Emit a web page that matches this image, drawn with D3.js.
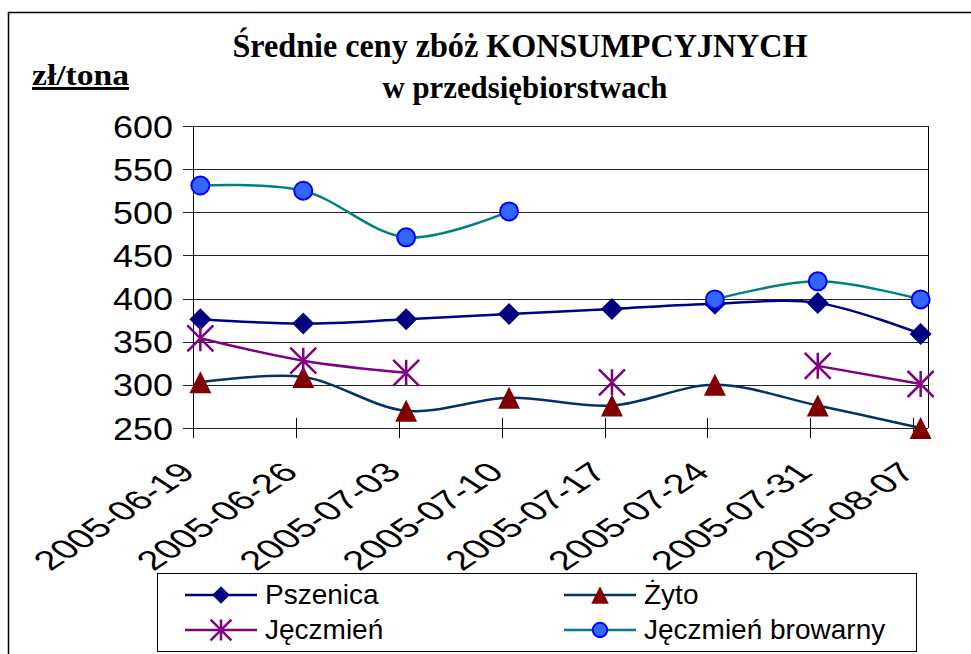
<!DOCTYPE html>
<html>
<head>
<meta charset="utf-8">
<script src="https://cdn.jsdelivr.net/npm/d3@7/dist/d3.min.js"></script>
<style>
  body { margin: 0; background: #fff; }
  svg { display: block; }
</style>
</head>
<body>
<svg id="Vis" width="971" height="654"></svg>
<script>
// dates of the weekly quotes and the prices (zł/tona)
var dates = ["2005-06-19","2005-06-26","2005-07-03","2005-07-10","2005-07-17","2005-07-24","2005-07-31","2005-08-07"];
var pszenica = [376, 371, 376, 382, 388, 394, 395, 359];
var zyto = [303, 309, 270, 285, 276, 300, 276, 250];
var jeczmien = [354, 328, 314, null, 303, null, 322, 301];
var browarny = [531, 525, 471, 501, null, 399, 420, 399];
var yTicks = [250, 300, 350, 400, 450, 500, 550, 600];
var seriesNames = ["Pszenica", "Żyto", "Jęczmień", "Jęczmień browarny"];

var parse = d3.timeParse("%Y-%m-%d");
var svg = d3.select("#Vis");

// outer frame
svg.append("rect").attr("x", 8.5).attr("y", 12.5).attr("width", 1000).attr("height", 700)
   .attr("fill", "none").attr("stroke", "#000").attr("stroke-width", 1.5);

var plotLeft = 193, plotRight = 928, plotTop = 126, plotBottom = 428;

var x = d3.scaleTime()
    .domain([parse("2005-06-19"), d3.timeDay.offset(parse("2005-08-07"), 1)])
    .range([plotLeft, plotRight]);
var y = d3.scaleLinear().domain([250, 600]).range([plotBottom, plotTop]);

// points sit in the middle of their day
function px(i){ return x(d3.timeHour.offset(parse(dates[i]), 12)); }

// gridlines
svg.append("g").selectAll("line").data(yTicks).enter().append("line")
   .attr("x1", plotLeft - 10).attr("x2", plotRight)
   .attr("y1", function(d){ return Math.round(y(d)) + 0.5; })
   .attr("y2", function(d){ return Math.round(y(d)) + 0.5; })
   .attr("stroke", "#222").attr("stroke-width", 1);

// plot borders
svg.append("line").attr("x1", plotLeft + 0.5).attr("x2", plotLeft + 0.5).attr("y1", plotTop).attr("y2", plotBottom + 10)
   .attr("stroke", "#000");
svg.append("line").attr("x1", plotRight + 0.5).attr("x2", plotRight + 0.5).attr("y1", plotTop).attr("y2", plotBottom)
   .attr("stroke", "#000");

// y tick labels
svg.append("g").selectAll("text").data(yTicks).enter().append("text")
   .attr("x", 173).attr("y", function(d){ return y(d); })
   .attr("dy", "0.36em").attr("text-anchor", "end")
   .attr("textLength", 60).attr("lengthAdjust", "spacingAndGlyphs")
   .style("font-family", "'Liberation Sans', Arial, sans-serif").style("font-size", "32px")
   .text(function(d){ return d; });

// x ticks crossing the axis
svg.append("g").selectAll("line").data(dates).enter().append("line")
   .attr("x1", function(d){ return Math.round(x(parse(d))) + 0.5; })
   .attr("x2", function(d){ return Math.round(x(parse(d))) + 0.5; })
   .attr("y1", plotBottom - 10).attr("y2", plotBottom + 10)
   .attr("stroke", "#000");

// x labels: rotated 45 and stretched like the original picture
svg.append("g").selectAll("text").data(dates).enter().append("text")
   .attr("transform", function(d){ return "translate(" + (x(parse(d)) + 4) + ",474) scale(1.5,1) rotate(-45)"; })
   .attr("text-anchor", "end")
   .style("font-family", "'Liberation Sans', Arial, sans-serif").style("font-size", "27px")
   .text(function(d){ return d; });

// lines
var lineColors = ["#000080", "#003366", "#800080", "#008080"];
var allSeries = [pszenica, zyto, jeczmien, browarny];

var line = d3.line()
    .defined(function(d){ return d != null; })
    .x(function(d, i){ return px(i); })
    .y(function(d){ return y(d); })
    .curve(d3.curveCatmullRom.alpha(0.5));

svg.append("g").selectAll("path").data(allSeries).enter().append("path")
   .attr("d", function(d){ return line(d); })
   .attr("fill", "none")
   .attr("stroke", function(d, i){ return lineColors[i]; })
   .attr("stroke-width", 2.5);

// markers
function marker(g, kind, cx, cy, scale){
  var s = scale || 1;
  if (kind == 0) {
    var r = 11 * s;
    g.append("path").attr("d", "M" + cx + "," + (cy - r) + "L" + (cx + r) + "," + cy + "L" + cx + "," + (cy + r) + "L" + (cx - r) + "," + cy + "Z")
     .attr("fill", "#000080");
  } else if (kind == 1) {
    var h = 11 * s;
    g.append("path").attr("d", "M" + cx + "," + (cy - h) + "L" + (cx + h) + "," + (cy + h) + "L" + (cx - h) + "," + (cy + h) + "Z")
     .attr("fill", "#800000");
  } else if (kind == 2) {
    var a = 13 * s;
    g.append("path").attr("d", "M" + (cx - a) + "," + (cy - a) + "L" + (cx + a) + "," + (cy + a) +
        "M" + (cx - a) + "," + (cy + a) + "L" + (cx + a) + "," + (cy - a) +
        "M" + cx + "," + (cy - a) + "L" + cx + "," + (cy + a))
     .attr("fill", "none").attr("stroke", "#800080").attr("stroke-width", 2.5);
  } else {
    g.append("circle").attr("cx", cx).attr("cy", cy).attr("r", 9 * s)
     .attr("fill", "#3366ff").attr("stroke", "#0000ff").attr("stroke-width", 2);
  }
}

var gMarks = svg.append("g");
allSeries.forEach(function(series, k){
  series.forEach(function(v, i){
    if (v != null) marker(gMarks, k, px(i), y(v));
  });
});

// legend
svg.append("rect").attr("x", 157.5).attr("y", 573.5).attr("width", 759).attr("height", 78)
   .attr("fill", "none").attr("stroke", "#000");

var legendPos = [[185, 595], [564, 595], [185, 630], [564, 630]];
seriesNames.forEach(function(name, k){
  var p = legendPos[k];
  svg.append("line").attr("x1", p[0]).attr("x2", p[0] + 72).attr("y1", p[1]).attr("y2", p[1])
     .attr("stroke", lineColors[k]).attr("stroke-width", 2.5);
  marker(svg, k, p[0] + 36, p[1], 0.8);
  svg.append("text").attr("x", p[0] + 80).attr("y", p[1] + 9)
     .style("font-family", "'Liberation Sans', Arial, sans-serif").style("font-size", "28px")
     .text(name);
});

// titles
svg.append("text").attr("x", 520).attr("y", 57).attr("text-anchor", "middle")
   .attr("textLength", 575).attr("lengthAdjust", "spacingAndGlyphs")
   .style("font-family", "'Liberation Serif', 'Times New Roman', serif").style("font-weight", "bold").style("font-size", "34px")
   .text("Średnie ceny zbóż KONSUMPCYJNYCH");
svg.append("text").attr("x", 525).attr("y", 98).attr("text-anchor", "middle")
   .attr("textLength", 285).attr("lengthAdjust", "spacingAndGlyphs")
   .style("font-family", "'Liberation Serif', 'Times New Roman', serif").style("font-weight", "bold").style("font-size", "32px")
   .text("w przedsiębiorstwach");
svg.append("text").attr("x", 32).attr("y", 85)
   .attr("textLength", 97).attr("lengthAdjust", "spacingAndGlyphs")
   .style("font-family", "'Liberation Serif', 'Times New Roman', serif").style("font-weight", "bold").style("font-size", "29px")
   .style("text-decoration", "underline")
   .text("zł/tona");
</script>
</body>
</html>
